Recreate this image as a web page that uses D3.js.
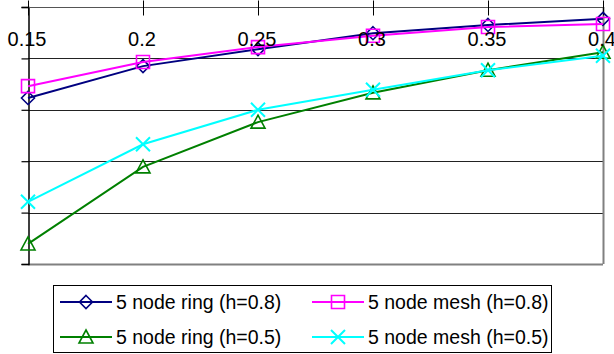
<!DOCTYPE html>
<html><head><meta charset="utf-8">
<script src="https://cdn.jsdelivr.net/npm/d3@7"></script>
<style>body{margin:0;background:#fff}svg{display:block}</style>
</head><body>
<script>
const xValues = [0.15, 0.2, 0.25, 0.3, 0.35, 0.4];
const xTickLabels = ["0.15", "0.2", "0.25", "0.3", "0.35", "0.4"];
const yGrid = [0, 1, 2, 3, 4, 5];
const ring08 = [3.23, 3.85, 4.18, 4.49, 4.65, 4.77];
const mesh08 = [3.46, 3.93, 4.22, 4.44, 4.61, 4.67];
const ring05 = [0.39, 1.89, 2.76, 3.33, 3.77, 4.12];
const mesh05 = [1.21, 2.33, 3.00, 3.39, 3.77, 4.05];
const seriesNames = ["5 node ring (h=0.8)", "5 node mesh (h=0.8)", "5 node ring (h=0.5)", "5 node mesh (h=0.5)"];

const series = [
  {name: seriesNames[0], values: ring08, color: "#000080", marker: "diamond"},
  {name: seriesNames[1], values: mesh08, color: "#FF00FF", marker: "square"},
  {name: seriesNames[2], values: ring05, color: "#008000", marker: "triangle"},
  {name: seriesNames[3], values: mesh05, color: "#00FFFF", marker: "x"}
];

const W = 614, H = 354;
const svg = d3.select("body").append("svg").attr("width", W).attr("height", H);
const x = d3.scaleLinear().domain([0.15, 0.4]).range([28, 603]);
const y = d3.scaleLinear().domain([0, 5]).range([264, 7]);

function markerPath(type, cx, cy) {
  const p = d3.path();
  if (type === "diamond") {
    const r = 6.5;
    p.moveTo(cx, cy - r); p.lineTo(cx + r, cy); p.lineTo(cx, cy + r); p.lineTo(cx - r, cy); p.closePath();
  } else if (type === "square") {
    const r = 6.5;
    p.rect(cx - r, cy - r, 2 * r, 2 * r);
  } else if (type === "triangle") {
    const r = 7;
    p.moveTo(cx, cy - 7); p.lineTo(cx + r, cy + 6); p.lineTo(cx - r, cy + 6); p.closePath();
  } else {
    const r = 7;
    p.moveTo(cx - r, cy - r); p.lineTo(cx + r, cy + r);
    p.moveTo(cx + r, cy - r); p.lineTo(cx - r, cy + r);
  }
  return p.toString();
}

// gridlines
svg.append("g").selectAll("line").data(yGrid.slice(1, 5)).join("line")
  .attr("x1", x(0.15)).attr("x2", x(0.4))
  .attr("y1", d => Math.round(y(d)) + 0.5).attr("y2", d => Math.round(y(d)) + 0.5)
  .attr("stroke", "#222").attr("stroke-width", 1);

// plot border right & bottom (gray)
svg.append("line").attr("x1", x(0.4) + 0.5).attr("x2", x(0.4) + 0.5).attr("y1", y(5)).attr("y2", y(0))
  .attr("stroke", "#808080").attr("stroke-width", 2);
svg.append("line").attr("x1", x(0.15)).attr("x2", x(0.4)).attr("y1", y(0) + 0.5).attr("y2", y(0) + 0.5)
  .attr("stroke", "#808080").attr("stroke-width", 2);

// y axis (left, ticks outward, no labels)
const yAxis = svg.append("g").attr("transform", `translate(${x(0.15) + 0.5},0)`)
  .call(d3.axisLeft(y).tickValues(yGrid).tickSize(7).tickFormat(""));
yAxis.select(".domain").attr("stroke", "#000").attr("stroke-width", 1.5);
yAxis.selectAll(".tick line").attr("stroke", "#000").attr("stroke-width", 1.2);

// x axis at top, cross ticks
const xAxis = svg.append("g").attr("transform", `translate(0,${y(5) + 0.5})`);
xAxis.append("line").attr("x1", x(0.15)).attr("x2", x(0.4)).attr("y1", 0).attr("y2", 0)
  .attr("stroke", "#555").attr("stroke-width", 1.2);
xAxis.selectAll("line.tk").data(xValues).join("line").attr("class", "tk")
  .attr("x1", d => Math.round(x(d)) + 0.5).attr("x2", d => Math.round(x(d)) + 0.5)
  .attr("y1", -7).attr("y2", 8).attr("stroke", "#000").attr("stroke-width", 1);

// series lines and markers
const line = d3.line().x((d, i) => x(xValues[i])).y(d => y(d));
series.forEach(s => {
  svg.append("path").datum(s.values).attr("d", line)
    .attr("fill", "none").attr("stroke", s.color).attr("stroke-width", 2);
  svg.append("g").selectAll("path").data(s.values).join("path")
    .attr("d", (d, i) => markerPath(s.marker, x(xValues[i]), y(d)))
    .attr("fill", "none").attr("stroke", s.color).attr("stroke-width", s.marker === "x" ? 2 : 1.6);
});

// x tick labels (drawn over the plot)
svg.append("g").selectAll("text").data(xValues).join("text")
  .attr("x", d => x(d) - 1).attr("y", 46)
  .attr("text-anchor", "middle")
  .attr("font-family", "Liberation Sans, Arial, sans-serif").attr("font-size", 20)
  .attr("fill", "#000")
  .text((d, i) => xTickLabels[i]);

// legend
const lg = svg.append("g");
lg.append("rect").attr("x", 53.5).attr("y", 285.5).attr("width", 498).attr("height", 67)
  .attr("fill", "#fff").attr("stroke", "#000").attr("stroke-width", 1);
const legPos = [
  {lx: 60, ly: 302}, {lx: 312, ly: 302}, {lx: 60, ly: 337}, {lx: 312, ly: 337}
];
series.forEach((s, i) => {
  const p = legPos[i];
  lg.append("line").attr("x1", p.lx).attr("x2", p.lx + 52).attr("y1", p.ly).attr("y2", p.ly)
    .attr("stroke", s.color).attr("stroke-width", 2);
  lg.append("path").attr("d", markerPath(s.marker, p.lx + 26, p.ly))
    .attr("fill", "none").attr("stroke", s.color).attr("stroke-width", s.marker === "x" ? 2 : 1.6);
  lg.append("text").attr("x", p.lx + 56).attr("y", p.ly + 7)
    .attr("font-family", "Liberation Sans, Arial, sans-serif").attr("font-size", 19.5)
    .attr("fill", "#000").text(s.name);
});
</script>
</body></html>
